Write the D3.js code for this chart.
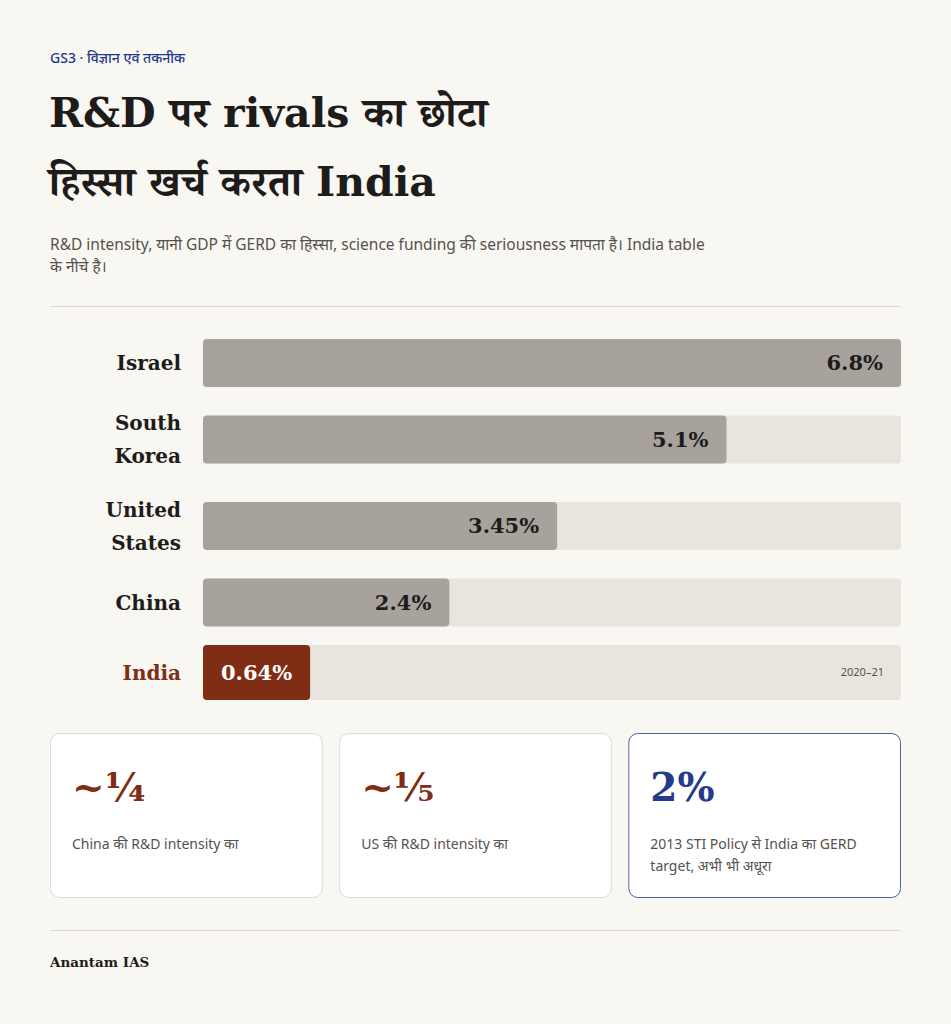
<!DOCTYPE html>
<html>
<head>
<meta charset="utf-8">
<script src="https://cdn.jsdelivr.net/npm/d3@7"></script>
<style>
  html, body { margin: 0; padding: 0; background: #f9f7f2; }
  svg { display: block; }
  .serif { font-family: "DejaVu Serif", "Liberation Serif", "Noto Serif Devanagari", serif; }
  .sans { font-family: "Noto Sans", "Noto Sans Devanagari", "Open Sans", sans-serif; }
</style>
</head>
<body>
<svg id="chart" width="951" height="1024"></svg>
<script>
// data
var countries = [["Israel"], ["South", "Korea"], ["United", "States"], ["China"], ["India"]];
var values = [6.8, 5.1, 3.45, 2.4, 0.64];
var valueLabels = ["6.8%", "5.1%", "3.45%", "2.4%", "0.64%"];
var highlight = "India";
var yearNote = "2020–21";

var cardValues = ["~¼", "~⅕", "2%"];
var cardTexts = [["China की R&D intensity का"], ["US की R&D intensity का"], ["2013 STI Policy से India का GERD", "target, अभी भी अधूरा"]];

var kicker = "GS3 · विज्ञान एवं तकनीक";
var titleLines = ["R&D पर rivals का छोटा", "हिस्सा खर्च करता India"];
var subLines = ["R&D intensity, यानी GDP में GERD का हिस्सा, science funding की seriousness मापता है। India table", "के नीचे है।"];
var source = "Anantam IAS";

var BROWN = "#7f2d14", BLUE = "#243a8c", INK = "#1e1c1a", GREY = "#55524e";

var svg = d3.select("#chart");

svg.append("text").attr("class", "sans").attr("x", 50).attr("y", 63)
    .attr("font-size", 14).attr("font-weight", 500).attr("fill", BLUE).text(kicker);

svg.append("g").selectAll("text").data(titleLines).join("text")
    .attr("class", "serif")
    .attr("x", 49).attr("y", function (d, i) { return 127 + i * 69; })
    .attr("font-size", 41).attr("font-weight", 700).attr("fill", INK)
    .text(function (d) { return d; });

svg.append("g").selectAll("text").data(subLines).join("text")
    .attr("class", "sans")
    .attr("x", 50).attr("y", function (d, i) { return 250 + i * 22; })
    .attr("font-size", 15.5).attr("fill", GREY)
    .text(function (d) { return d; });

svg.append("line").attr("x1", 50).attr("x2", 901).attr("y1", 306.5).attr("y2", 306.5)
    .attr("stroke", "#dedad3");

// bars
var trackX = 203, trackW = 698;
var x = d3.scaleLinear().domain([0, d3.max(values)]).range([0, trackW]);

var lineH = 33, gap = 18.5;
var rows = [];
var cursor = 339;
countries.forEach(function (c, i) {
    var isHi = c[0] === highlight;
    var barH = isHi ? 55 : 48;
    var h = Math.max(barH, c.length * lineH + 2);
    rows.push({ name: c, value: values[i], label: valueLabels[i], top: cursor, h: h, barH: barH, hi: isHi });
    cursor += h + gap;
});

var row = svg.append("g").selectAll("g").data(rows).join("g")
    .attr("transform", function (d) { return "translate(0," + (d.top + d.h / 2) + ")"; });

row.append("rect")
    .attr("x", trackX).attr("y", function (d) { return -d.barH / 2; })
    .attr("width", trackW).attr("height", function (d) { return d.barH; })
    .attr("rx", 4).attr("fill", "#e8e5df");

var valText = row.append("text")
    .attr("class", "serif")
    .attr("y", 0).attr("dy", "0.35em")
    .attr("text-anchor", "end")
    .attr("font-size", 21).attr("font-weight", 700)
    .attr("fill", function (d) { return d.hi ? "#ffffff" : INK; })
    .text(function (d) { return d.label; });

row.each(function (d, i) {
    var tw = valText.nodes()[i].getComputedTextLength();
    d.w = Math.max(x(d.value), tw + 36);
});

row.insert("rect", "text")
    .attr("x", trackX).attr("y", function (d) { return -d.barH / 2; })
    .attr("width", function (d) { return d.w; }).attr("height", function (d) { return d.barH; })
    .attr("rx", 4).attr("fill", function (d) { return d.hi ? BROWN : "#a8a29d"; });

valText.attr("x", function (d) { return trackX + d.w - 18; });

row.append("text")
    .attr("class", "serif")
    .attr("x", 181).attr("text-anchor", "end")
    .attr("font-size", 20).attr("font-weight", 700)
    .attr("fill", function (d) { return d.hi ? BROWN : INK; })
    .selectAll("tspan").data(function (d) { return d.name.map(function (n, j) { return { n: n, j: j, k: d.name.length }; }); })
    .join("tspan")
    .attr("x", 181)
    .attr("y", function (t) { return (t.j - (t.k - 1) / 2) * lineH; })
    .attr("dy", "0.35em")
    .text(function (t) { return t.n; });

row.filter(function (d) { return d.hi; }).append("text")
    .attr("class", "sans")
    .attr("x", 884).attr("dy", "0.35em").attr("text-anchor", "end")
    .attr("font-size", 11).attr("fill", GREY).text(yearNote);

// cards
var cardX = d3.scaleBand().domain(d3.range(cardValues.length)).range([50, 901]).paddingInner(0.057);

var card = svg.append("g").selectAll("g").data(cardValues).join("g")
    .attr("transform", function (d, i) { return "translate(" + cardX(i) + ",733)"; });

card.append("rect")
    .attr("x", 0.5).attr("y", 0.5)
    .attr("width", cardX.bandwidth() - 1).attr("height", 164)
    .attr("rx", 9).attr("fill", "#ffffff")
    .attr("stroke", function (d, i) { return i === 2 ? "#4c5fa3" : "#dedad3"; });

card.append("text")
    .attr("class", "serif")
    .attr("x", 22).attr("y", 68)
    .attr("font-size", 39).attr("font-weight", 700)
    .attr("fill", function (d, i) { return i === 2 ? BLUE : BROWN; })
    .text(function (d) { return d; });

card.append("g").selectAll("text").data(function (d, i) { return cardTexts[i]; }).join("text")
    .attr("class", "sans")
    .attr("x", 22).attr("y", function (d, j) { return 116 + j * 22; })
    .attr("font-size", 14).attr("fill", GREY)
    .text(function (d) { return d; });

svg.append("line").attr("x1", 50).attr("x2", 901).attr("y1", 930.5).attr("y2", 930.5)
    .attr("stroke", "#dedad3");

svg.append("text").attr("class", "serif").attr("x", 50).attr("y", 967)
    .attr("font-size", 13.5).attr("font-weight", 700).attr("fill", INK).text(source);
</script>
</body>
</html>
